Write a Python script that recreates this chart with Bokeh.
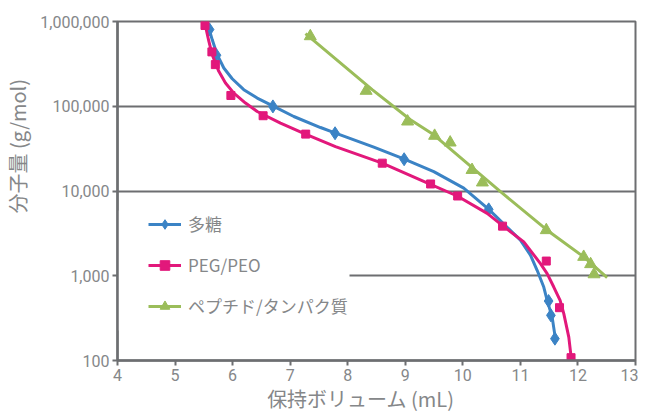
from bokeh.plotting import figure
from bokeh.models import FixedTicker, BoxAnnotation
from bokeh.embed import file_html
from bokeh.resources import INLINE

# ---- data ----
series_names = ["多糖", "PEG/PEO", "ペプチド/タンパク質"]

# 多糖 (polysaccharide) standards
poly_x = [5.60, 5.72, 6.70, 7.78, 8.98, 10.45, 11.49, 11.53, 11.60]
poly_y = [804000, 400000, 99600, 48000, 23700, 6070, 503, 341, 181]
# calibration curve
poly_fit_x = [5.586, 5.645, 5.732, 5.847, 5.993, 6.194, 6.427, 6.715, 7.063, 7.527, 7.788,
              8.453, 8.974, 9.495, 10.016, 10.451, 11.001, 11.175, 11.291, 11.406, 11.465,
              11.552, 11.609]
poly_fit_y = [842000, 612000, 406000, 283000, 211000, 157000, 125000, 99600, 75700, 56100,
              48200, 32900, 23900, 16900, 10800, 6070, 2630, 1750, 1160, 736, 513, 325, 180]

# PEG/PEO standards
peg_x = [5.52, 5.64, 5.70, 5.97, 6.53, 7.27, 8.60, 9.44, 9.91, 10.69, 11.45, 11.68, 11.88]
peg_y = [897000, 438000, 310000, 134000, 77300, 46900, 21300, 12100, 8730, 3850, 1490, 420, 108]
peg_fit_x = [5.529, 5.587, 5.645, 5.760, 5.876, 6.021, 6.224, 6.427, 6.832, 7.266, 7.787,
             8.599, 9.438, 9.902, 10.423, 10.701, 11.059, 11.349, 11.465, 11.580, 11.69,
             11.754, 11.841, 11.882]
peg_fit_y = [880000, 585000, 406000, 258000, 188000, 143000, 109000, 86700, 63200, 46900,
             33400, 21300, 12000, 8730, 5440, 3850, 2510, 1390, 1060, 736, 513, 357, 189, 109]

# ペプチド/タンパク質 standards
pep_x = [7.35, 8.32, 9.04, 9.51, 9.78, 10.16, 10.34, 11.45, 12.10, 12.22, 12.28]
pep_y = [670000, 152000, 66000, 44800, 37300, 17700, 12600, 3450, 1670, 1370, 1040]
pep_fit_x = [7.266, 8.425, 9.09, 9.495, 10.654, 11.465, 12.101, 12.507]
pep_fit_y = [721000, 157000, 69200, 46000, 9820, 3450, 1670, 953]

x_ticks = [4, 5, 6, 7, 8, 9, 10, 11, 12, 13]
y_ticks = [100, 1000, 10000, 100000, 1000000]
y_tick_labels = ["100", "1,000", "10,000", "100,000", "1,000,000"]

x_title = "保持ボリューム (mL)"
y_title = "分子量 (g/mol)"

# ---- styling ----
BLUE = "#3b83c5"
PINK = "#e2187b"
GREEN = "#9bbd5a"
GRID = "#6d6e71"
TEXT = "#858789"
NBSP = "\u00a0"

p = figure(frame_width=518, frame_height=339, x_range=(4, 13), y_range=(100, 1000000),
           y_axis_type="log", output_backend="svg", toolbar_location=None,
           min_border_left=109, min_border_right=3, min_border_top=21,
           min_border_bottom=0)

p.background_fill_color = "white"
p.border_fill_color = "white"
p.outline_line_color = GRID
p.outline_line_width = 2

# white area behind legend (hides gridline like the reference)
p.add_layout(BoxAnnotation(left=0, right=232, bottom=30, top=150,
                           left_units="screen", right_units="screen",
                           top_units="screen", bottom_units="screen",
                           fill_color="white", fill_alpha=1.0, line_color=None,
                           level="underlay"))

p.xgrid.visible = False
p.ygrid.ticker = FixedTicker(ticks=y_ticks)
p.ygrid.grid_line_color = GRID
p.ygrid.grid_line_width = 2

p.xaxis.ticker = FixedTicker(ticks=x_ticks)
p.yaxis.ticker = FixedTicker(ticks=y_ticks)
p.yaxis.major_label_overrides = {t: l for t, l in zip(y_ticks, y_tick_labels)}

for ax in (p.xaxis[0], p.yaxis[0]):
    ax.axis_line_color = GRID
    ax.axis_line_width = 2.5
    ax.major_tick_line_color = GRID
    ax.major_tick_line_width = 2
    ax.major_tick_out = 5
    ax.major_tick_in = 0
    ax.minor_tick_line_color = None
    ax.major_label_text_font = "Roboto"
    ax.major_label_text_font_size = "16px"
    ax.major_label_text_color = TEXT
    ax.major_label_standoff = 3
    ax.axis_label_text_font = "Noto Sans CJK JP"
    ax.axis_label_text_font_size = "20px"
    ax.axis_label_text_font_style = "normal"
    ax.axis_label_text_color = TEXT

p.xaxis.axis_label = x_title + NBSP * 7
p.xaxis.axis_label_standoff = 0
p.yaxis.axis_label = NBSP * 20 + y_title
p.yaxis.axis_label_standoff = 5

# curves and markers
p.line(poly_fit_x, poly_fit_y, line_color=BLUE, line_width=3, legend_label=series_names[0])
p.scatter(poly_x, poly_y, marker="diamond", size=13, color=BLUE, legend_label=series_names[0])

p.line(peg_fit_x, peg_fit_y, line_color=PINK, line_width=3, legend_label=series_names[1])
p.scatter(peg_x, peg_y, marker="square", size=8, color=PINK, legend_label=series_names[1])

p.line(pep_fit_x, pep_fit_y, line_color=GREEN, line_width=3, legend_label=series_names[2])
p.scatter(pep_x, pep_y, marker="triangle", size=12, color=GREEN, legend_label=series_names[2])

lg = p.legend[0]
lg.location = (31, 42)
lg.background_fill_alpha = 0
lg.border_line_color = None
lg.padding = 0
lg.margin = 0
lg.spacing = 16
lg.glyph_width = 33
lg.glyph_height = 24
lg.label_height = 24
lg.label_standoff = 7
lg.label_text_font = "Noto Sans CJK JP"
lg.label_text_font_size = "17px"
lg.label_text_color = TEXT

open("out.html", "w").write(file_html(p, INLINE))
